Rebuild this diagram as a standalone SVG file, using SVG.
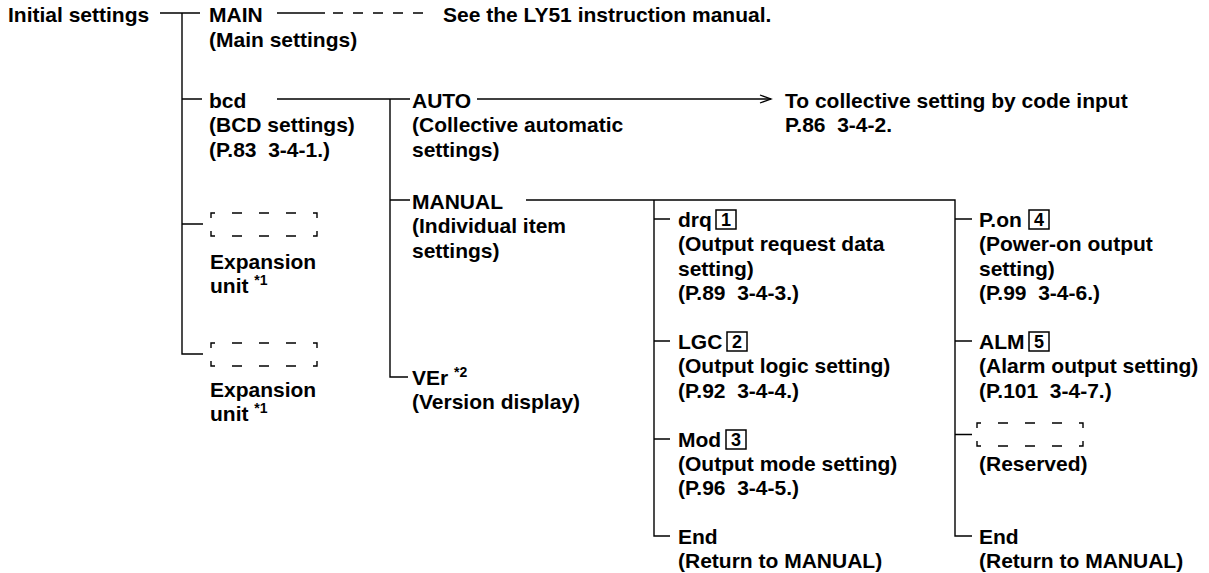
<svg xmlns="http://www.w3.org/2000/svg" width="1209" height="573" viewBox="0 0 1209 573">
<style>
text{font-family:"Liberation Sans",Arial,Helvetica,sans-serif;font-weight:bold;font-size:21px;fill:#000;white-space:pre}
.ln{stroke:#000;stroke-width:1.4;fill:none}
.sup{font-size:14px}
.num{font-size:18px;text-anchor:middle}
.bx{fill:none;stroke:#000;stroke-width:1.5}
</style>
<defs>
<marker id="arr" markerUnits="userSpaceOnUse" markerWidth="14" markerHeight="12" refX="12" refY="5" orient="auto"><path d="M1,1 L12,5 L1,9" fill="none" stroke="#000" stroke-width="1.3"/></marker>
<path id="dbox" d="M0,5V0H4M102,0H106V5M0,18V23H4M102,23H106V18M21,0h10M48,0h10M75,0h10M21,23h10M48,23h10M75,23h10"/>
</defs>
<rect width="1209" height="573" fill="#fff"/>
<g id="connectors" class="ln">
<path d="M160,13H200M182,13V354H203M182,99H202M182,224H203"/>
<path d="M277,13H325"/>
<path d="M333,13H423" stroke-dasharray="10 10"/>
<path d="M277,99H410M390,99V377H408M390,200H410"/>
<path d="M477,99H771" marker-end="url(#arr)"/>
<path d="M526,200H955V536H972M654,200V536H670M654,219H670M654,341H670M654,439H670M955,219H972M955,341H972M955,434.5H972"/>
</g>
<g id="n-initial"><text x="8" y="22">Initial settings</text></g>
<g id="n-main"><text x="209" y="22">MAIN</text><text x="209" y="47">(Main settings)</text></g>
<g id="n-ly51"><text x="443" y="22">See the LY51 instruction manual.</text></g>
<g id="n-bcd"><text x="209" y="108">bcd</text><text x="209" y="132">(BCD settings)</text><text x="209" y="157">(P.83  3-4-1.)</text></g>
<g id="n-exp1"><use href="#dbox" x="211" y="213" class="ln"/><text x="210" y="269">Expansion</text><text x="210" y="293">unit <tspan class="sup" dy="-8">*1</tspan></text></g>
<g id="n-exp2"><use href="#dbox" x="211" y="343" class="ln"/><text x="210" y="397">Expansion</text><text x="210" y="421">unit <tspan class="sup" dy="-8">*1</tspan></text></g>
<g id="n-auto"><text x="412" y="108">AUTO</text><text x="412" y="132">(Collective automatic</text><text x="412" y="157">settings)</text></g>
<g id="n-code"><text x="785" y="108">To collective setting by code input</text><text x="785" y="132">P.86  3-4-2.</text></g>
<g id="n-manual"><text x="412" y="209">MANUAL</text><text x="412" y="233">(Individual item</text><text x="412" y="258">settings)</text></g>
<g id="n-ver"><text x="412" y="385">VEr <tspan class="sup" dy="-8">*2</tspan></text><text x="412" y="409">(Version display)</text></g>
<g id="n-drq"><text x="678" y="227">drq</text><rect class="bx" x="716" y="210" width="20" height="19"/><text class="num" x="726" y="226">1</text><text x="678" y="251">(Output request data</text><text x="678" y="276">setting)</text><text x="678" y="300">(P.89  3-4-3.)</text></g>
<g id="n-lgc"><text x="678" y="349">LGC</text><rect class="bx" x="727" y="332" width="20" height="19"/><text class="num" x="737" y="348">2</text><text x="678" y="373">(Output logic setting)</text><text x="678" y="398">(P.92  3-4-4.)</text></g>
<g id="n-mod"><text x="678" y="447">Mod</text><rect class="bx" x="726" y="430" width="20" height="19"/><text class="num" x="736" y="446">3</text><text x="678" y="471">(Output mode setting)</text><text x="678" y="495">(P.96  3-4-5.)</text></g>
<g id="n-end1"><text x="678" y="544">End</text><text x="678" y="568">(Return to MANUAL)</text></g>
<g id="n-pon"><text x="979" y="227">P.on</text><rect class="bx" x="1029" y="210" width="20" height="19"/><text class="num" x="1039" y="226">4</text><text x="979" y="251">(Power-on output</text><text x="979" y="276">setting)</text><text x="979" y="300">(P.99  3-4-6.)</text></g>
<g id="n-alm"><text x="979" y="349">ALM</text><rect class="bx" x="1029" y="332" width="20" height="19"/><text class="num" x="1039" y="348">5</text><text x="979" y="373">(Alarm output setting)</text><text x="979" y="398">(P.101  3-4-7.)</text></g>
<g id="n-res"><use href="#dbox" x="977" y="423" class="ln"/><text x="979" y="471">(Reserved)</text></g>
<g id="n-end2"><text x="979" y="544">End</text><text x="979" y="568">(Return to MANUAL)</text></g>
</svg>
